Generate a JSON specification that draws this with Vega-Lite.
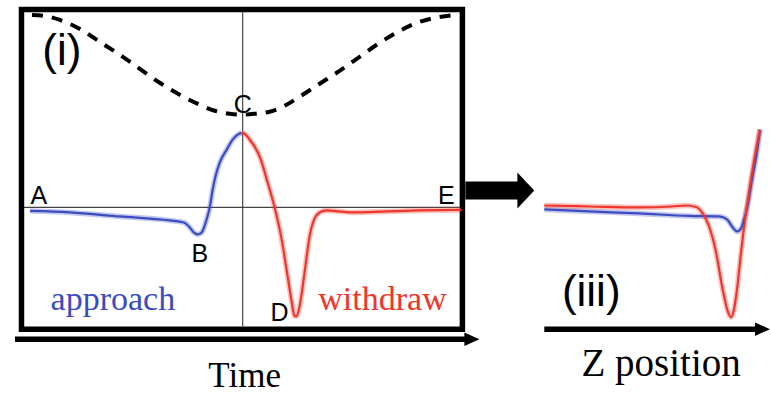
{
  "$schema": "https://vega.github.io/schema/vega-lite/v6.json",
  "width": 771,
  "height": 394,
  "autosize": {"type": "fit", "contains": "padding"},
  "padding": 0,
  "background": "white",
  "config": {"view": {"stroke": null}},
  "encoding": {
    "x": {"field": "x", "type": "quantitative", "scale": {"domain": [0, 771], "nice": false, "zero": false}, "axis": null},
    "y": {"field": "y", "type": "quantitative", "scale": {"domain": [0, 394], "reverse": true, "nice": false, "zero": false}, "axis": null}
  },
  "layer": [
    {
      "data": {"values": [
        {"x": 243, "y": 12, "x2": 243, "y2": 327},
        {"x": 24, "y": 208, "x2": 461, "y2": 208}
      ]},
      "mark": {"type": "rule", "color": "#444444", "strokeWidth": 1.2},
      "encoding": {"x2": {"field": "x2"}, "y2": {"field": "y2"}}
    },
    {
      "data": {"values": [
        {"x": 32, "y": 15}, {"x": 45, "y": 16}, {"x": 60, "y": 20}, {"x": 80, "y": 29},
        {"x": 100, "y": 42}, {"x": 120, "y": 55}, {"x": 140, "y": 69}, {"x": 160, "y": 83},
        {"x": 180, "y": 95}, {"x": 200, "y": 105}, {"x": 215, "y": 111}, {"x": 230, "y": 114},
        {"x": 243, "y": 115}, {"x": 256, "y": 114}, {"x": 270, "y": 112}, {"x": 285, "y": 106},
        {"x": 300, "y": 97}, {"x": 320, "y": 84}, {"x": 340, "y": 71}, {"x": 360, "y": 57},
        {"x": 380, "y": 43}, {"x": 400, "y": 31}, {"x": 420, "y": 22}, {"x": 440, "y": 17},
        {"x": 457, "y": 15}
      ]},
      "mark": {"type": "line", "color": "black", "strokeWidth": 4, "strokeDash": [11, 9], "interpolate": "monotone"},
      "encoding": {}
    },
    {
      "data": {"values": [{"x": 21.5, "y": 9.5, "x2": 463, "y2": 330}]},
      "mark": {"type": "rect", "fillOpacity": 0, "stroke": "black", "strokeWidth": 5.5},
      "encoding": {"x2": {"field": "x2"}, "y2": {"field": "y2"}}
    },
    {
      "data": {"name": "curves", "values": [
        {"g": "bl", "c": "approach", "x": 30, "y": 211.5},
        {"g": "bl", "c": "approach", "x": 70, "y": 213},
        {"g": "bl", "c": "approach", "x": 120, "y": 217},
        {"g": "bl", "c": "approach", "x": 170, "y": 221},
        {"g": "bl", "c": "approach", "x": 184, "y": 223},
        {"g": "bl", "c": "approach", "x": 190, "y": 228},
        {"g": "bl", "c": "approach", "x": 194, "y": 233},
        {"g": "bl", "c": "approach", "x": 198, "y": 235},
        {"g": "bl", "c": "approach", "x": 202, "y": 233},
        {"g": "bl", "c": "approach", "x": 205, "y": 226},
        {"g": "bl", "c": "approach", "x": 208, "y": 216},
        {"g": "bl", "c": "approach", "x": 210, "y": 208},
        {"g": "bl", "c": "approach", "x": 213, "y": 190},
        {"g": "bl", "c": "approach", "x": 216, "y": 176},
        {"g": "bl", "c": "approach", "x": 220, "y": 163},
        {"g": "bl", "c": "approach", "x": 227, "y": 150},
        {"g": "bl", "c": "approach", "x": 233, "y": 140},
        {"g": "bl", "c": "approach", "x": 238, "y": 135},
        {"g": "bl", "c": "approach", "x": 242, "y": 133},
        {"g": "rl", "c": "withdraw", "x": 242, "y": 133},
        {"g": "rl", "c": "withdraw", "x": 246, "y": 135},
        {"g": "rl", "c": "withdraw", "x": 250, "y": 140},
        {"g": "rl", "c": "withdraw", "x": 255, "y": 147},
        {"g": "rl", "c": "withdraw", "x": 260, "y": 157},
        {"g": "rl", "c": "withdraw", "x": 264, "y": 169},
        {"g": "rl", "c": "withdraw", "x": 268, "y": 183},
        {"g": "rl", "c": "withdraw", "x": 275, "y": 208},
        {"g": "rl", "c": "withdraw", "x": 282, "y": 240},
        {"g": "rl", "c": "withdraw", "x": 288, "y": 277},
        {"g": "rl", "c": "withdraw", "x": 292, "y": 302},
        {"g": "rl", "c": "withdraw", "x": 295, "y": 317},
        {"g": "rl", "c": "withdraw", "x": 297, "y": 317},
        {"g": "rl", "c": "withdraw", "x": 300, "y": 307},
        {"g": "rl", "c": "withdraw", "x": 305, "y": 273},
        {"g": "rl", "c": "withdraw", "x": 310, "y": 237},
        {"g": "rl", "c": "withdraw", "x": 315, "y": 219},
        {"g": "rl", "c": "withdraw", "x": 320, "y": 213},
        {"g": "rl", "c": "withdraw", "x": 327, "y": 211},
        {"g": "rl", "c": "withdraw", "x": 340, "y": 212},
        {"g": "rl", "c": "withdraw", "x": 353, "y": 213},
        {"g": "rl", "c": "withdraw", "x": 387, "y": 212},
        {"g": "rl", "c": "withdraw", "x": 420, "y": 211},
        {"g": "rl", "c": "withdraw", "x": 462, "y": 210.5},
        {"g": "br", "c": "approach", "x": 545, "y": 210},
        {"g": "br", "c": "approach", "x": 590, "y": 212},
        {"g": "br", "c": "approach", "x": 640, "y": 214},
        {"g": "br", "c": "approach", "x": 690, "y": 216.5},
        {"g": "br", "c": "approach", "x": 720, "y": 217},
        {"g": "br", "c": "approach", "x": 728, "y": 220},
        {"g": "br", "c": "approach", "x": 733, "y": 227},
        {"g": "br", "c": "approach", "x": 738, "y": 232},
        {"g": "br", "c": "approach", "x": 742, "y": 229},
        {"g": "br", "c": "approach", "x": 745, "y": 220},
        {"g": "br", "c": "approach", "x": 748, "y": 209},
        {"g": "br", "c": "approach", "x": 753, "y": 180},
        {"g": "br", "c": "approach", "x": 758, "y": 152},
        {"g": "br", "c": "approach", "x": 761, "y": 130},
        {"g": "rr", "c": "withdraw", "x": 545, "y": 206},
        {"g": "rr", "c": "withdraw", "x": 590, "y": 207},
        {"g": "rr", "c": "withdraw", "x": 640, "y": 208},
        {"g": "rr", "c": "withdraw", "x": 673, "y": 207},
        {"g": "rr", "c": "withdraw", "x": 687, "y": 206},
        {"g": "rr", "c": "withdraw", "x": 697, "y": 207.5},
        {"g": "rr", "c": "withdraw", "x": 703, "y": 213},
        {"g": "rr", "c": "withdraw", "x": 710, "y": 227},
        {"g": "rr", "c": "withdraw", "x": 717, "y": 253},
        {"g": "rr", "c": "withdraw", "x": 723, "y": 287},
        {"g": "rr", "c": "withdraw", "x": 729, "y": 313},
        {"g": "rr", "c": "withdraw", "x": 732, "y": 318},
        {"g": "rr", "c": "withdraw", "x": 735, "y": 310},
        {"g": "rr", "c": "withdraw", "x": 738, "y": 290},
        {"g": "rr", "c": "withdraw", "x": 742, "y": 253},
        {"g": "rr", "c": "withdraw", "x": 747, "y": 213},
        {"g": "rr", "c": "withdraw", "x": 752, "y": 180},
        {"g": "rr", "c": "withdraw", "x": 757, "y": 150},
        {"g": "rr", "c": "withdraw", "x": 761, "y": 130}
      ]},
      "layer": [
        {
          "mark": {"type": "line", "strokeWidth": 5.5, "opacity": 0.3, "interpolate": "monotone"},
          "encoding": {
            "color": {"field": "c", "type": "nominal", "scale": {"domain": ["approach", "withdraw"], "range": ["#3c4cc0", "#f0352b"]}, "legend": null},
            "detail": {"field": "g"}
          }
        },
        {
          "mark": {"type": "line", "strokeWidth": 2.2, "interpolate": "monotone"},
          "encoding": {
            "color": {"field": "c", "type": "nominal", "legend": null},
            "detail": {"field": "g"}
          }
        }
      ]
    },
    {
      "data": {"values": [
        {"x": 15, "y": 340, "x2": 467, "y2": 340},
        {"x": 545, "y": 330, "x2": 758, "y2": 330}
      ]},
      "mark": {"type": "rule", "color": "black", "strokeWidth": 5.5},
      "encoding": {"x2": {"field": "x2"}, "y2": {"field": "y2"}}
    },
    {
      "data": {"values": [
        {"x": 472.5, "y": 340},
        {"x": 763.5, "y": 330}
      ]},
      "mark": {"type": "point", "shape": "M-1,-0.9L1,0L-1,0.9Z", "filled": true, "color": "black", "opacity": 1, "size": 225},
      "encoding": {}
    },
    {
      "data": {"values": [{"x": 466, "y": 191, "x2": 519, "y2": 191}]},
      "mark": {"type": "rule", "color": "black", "strokeWidth": 18},
      "encoding": {"x2": {"field": "x2"}, "y2": {"field": "y2"}}
    },
    {
      "data": {"values": [{"x": 526.5, "y": 191}]},
      "mark": {"type": "point", "shape": "M-0.47,-1L0.47,0L-0.47,1Z", "filled": true, "color": "black", "opacity": 1, "size": 1296},
      "encoding": {}
    },
    {
      "data": {"values": [
        {"t": "A", "x": 39, "y": 205},
        {"t": "B", "x": 200, "y": 263},
        {"t": "C", "x": 243, "y": 113},
        {"t": "D", "x": 280, "y": 322},
        {"t": "E", "x": 447, "y": 205}
      ]},
      "mark": {"type": "text", "font": "Liberation Sans", "fontSize": 25, "align": "center", "baseline": "alphabetic", "color": "black"},
      "encoding": {"text": {"field": "t"}}
    },
    {
      "data": {"values": [
        {"t": "(i)", "x": 62, "y": 65},
        {"t": "(iii)", "x": 592, "y": 307}
      ]},
      "mark": {"type": "text", "font": "Liberation Sans", "fontSize": 44, "align": "center", "baseline": "alphabetic", "color": "black"},
      "encoding": {"text": {"field": "t"}}
    },
    {
      "data": {"values": [
        {"t": "approach", "c": "approach", "x": 113, "y": 311},
        {"t": "withdraw", "c": "withdraw", "x": 383, "y": 311}
      ]},
      "mark": {"type": "text", "font": "Liberation Serif", "fontSize": 34, "align": "center", "baseline": "alphabetic"},
      "encoding": {"text": {"field": "t"}, "color": {"field": "c", "type": "nominal", "legend": null}}
    },
    {
      "data": {"values": [{"t": "Time", "x": 245, "y": 388}]},
      "mark": {"type": "text", "font": "Liberation Serif", "fontSize": 35, "align": "center", "baseline": "alphabetic", "color": "black"},
      "encoding": {"text": {"field": "t"}}
    },
    {
      "data": {"values": [{"t": "Z position", "x": 662, "y": 377}]},
      "mark": {"type": "text", "font": "Liberation Serif", "fontSize": 39, "align": "center", "baseline": "alphabetic", "color": "black"},
      "encoding": {"text": {"field": "t"}}
    }
  ]
}
